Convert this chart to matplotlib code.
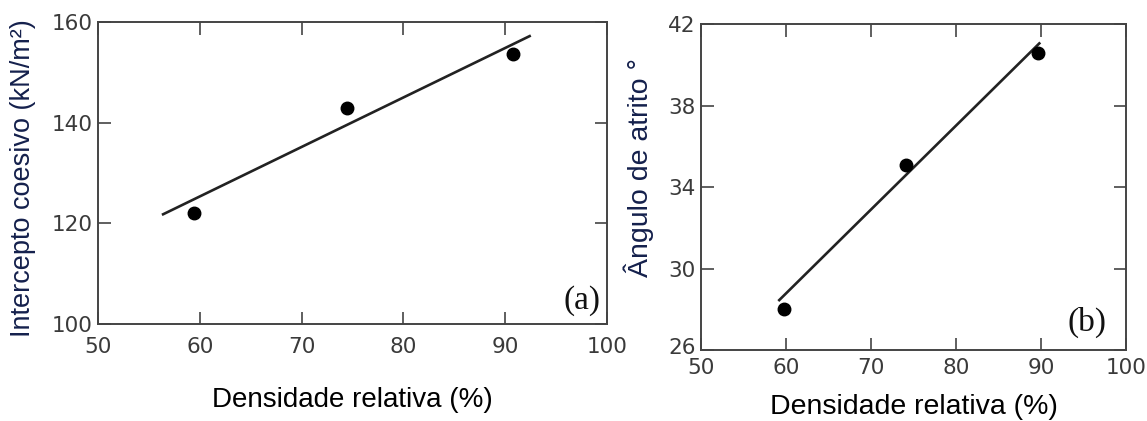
import matplotlib
matplotlib.use("Agg")
import matplotlib.pyplot as plt
import matplotlib.transforms as mtransforms

# Panel (a)
dens_a = [59.4, 74.5, 90.8]
coes_a = [122.0, 142.9, 153.6]
fit_a_x = [56.4, 92.4]
fit_a_y = [121.8, 157.2]

# Panel (b)
dens_b = [59.8, 74.1, 89.7]
atr_b = [28.0, 35.1, 40.6]
fit_b_x = [59.2, 89.8]
fit_b_y = [28.45, 41.05]

xticks = [50, 60, 70, 80, 90, 100]
xticklabels = ["50", "60", "70", "80", "90", "100"]
yticks_a = [100, 120, 140, 160]
yticklabels_a = ["100", "120", "140", "160"]
yticks_b = [26, 30, 34, 38, 42]
yticklabels_b = ["26", "30", "34", "38", "42"]

fig = plt.figure(figsize=(11.47, 4.21), dpi=100)
ax1 = fig.add_axes([0.0854, 0.2304, 0.4438, 0.7173])
ax2 = fig.add_axes([0.6112, 0.1686, 0.3705, 0.7743])

tick_col = "#3a3a3a"
frame_col = "#444444"
label_col = "#14204c"

def style(ax):
    for s in ax.spines.values():
        s.set_color(frame_col)
        s.set_linewidth(1.4)
    ax.tick_params(direction="in", length=9, width=1.2, color=frame_col,
                   top=True, right=True, labelsize=15.5, labelcolor=tick_col,
                   pad=4)

# (a)
ax1.plot(fit_a_x, fit_a_y, color="#222222", lw=1.9)
ax1.plot(dens_a, coes_a, "o", color="black", ms=9)
ax1.set_xlim(50, 100)
ax1.set_ylim(100, 160)
ax1.set_xticks(xticks)
ax1.set_xticklabels(xticklabels)
ax1.set_yticks(yticks_a)
ax1.set_yticklabels(yticklabels_a)
style(ax1)
ax1.tick_params(axis="x", pad=9)
ax1.set_xlabel("Densidade relativa (%)", family="Liberation Sans", fontsize=20,
               color="black", labelpad=22)
ax1.set_ylabel("Intercepto coesivo (kN/m²)", family="Liberation Sans", fontsize=19.5,
               color=label_col)
ax1.yaxis.set_label_coords(-0.122, 0.483)
ax1.text(0.951, 0.079, "(a)", transform=ax1.transAxes, ha="center", va="center",
         family="Liberation Serif", fontsize=24, color="#111111")

# (b)
ax2.plot(fit_b_x, fit_b_y, color="#222222", lw=1.9)
ax2.plot(dens_b, atr_b, "o", color="black", ms=9)
ax2.set_xlim(50, 100)
ax2.set_ylim(26, 42)
ax2.set_xticks(xticks)
ax2.set_xticklabels(xticklabels)
ax2.set_yticks(yticks_b)
ax2.set_yticklabels(yticklabels_b)
style(ax2)
ax2.tick_params(axis="x", pad=6)
# lowest y label sits slightly above its tick, as in the reference
lab26 = ax2.get_yticklabels()[0]
lab26.set_transform(lab26.get_transform() +
                    mtransforms.ScaledTranslation(0, 4 / 100, fig.dpi_scale_trans))
ax2.set_xlabel("Densidade relativa (%)", family="Liberation Sans", fontsize=20.5,
               color="black", labelpad=11)
ax2.set_ylabel("Ângulo de atrito °", family="Liberation Sans", fontsize=20.5,
               color=label_col)
ax2.yaxis.set_label_coords(-0.111, 0.561)
ax2.text(0.908, 0.086, "(b)", transform=ax2.transAxes, ha="center", va="center",
         family="Liberation Serif", fontsize=24, color="#111111")

fig.savefig("out.png", dpi=100)
